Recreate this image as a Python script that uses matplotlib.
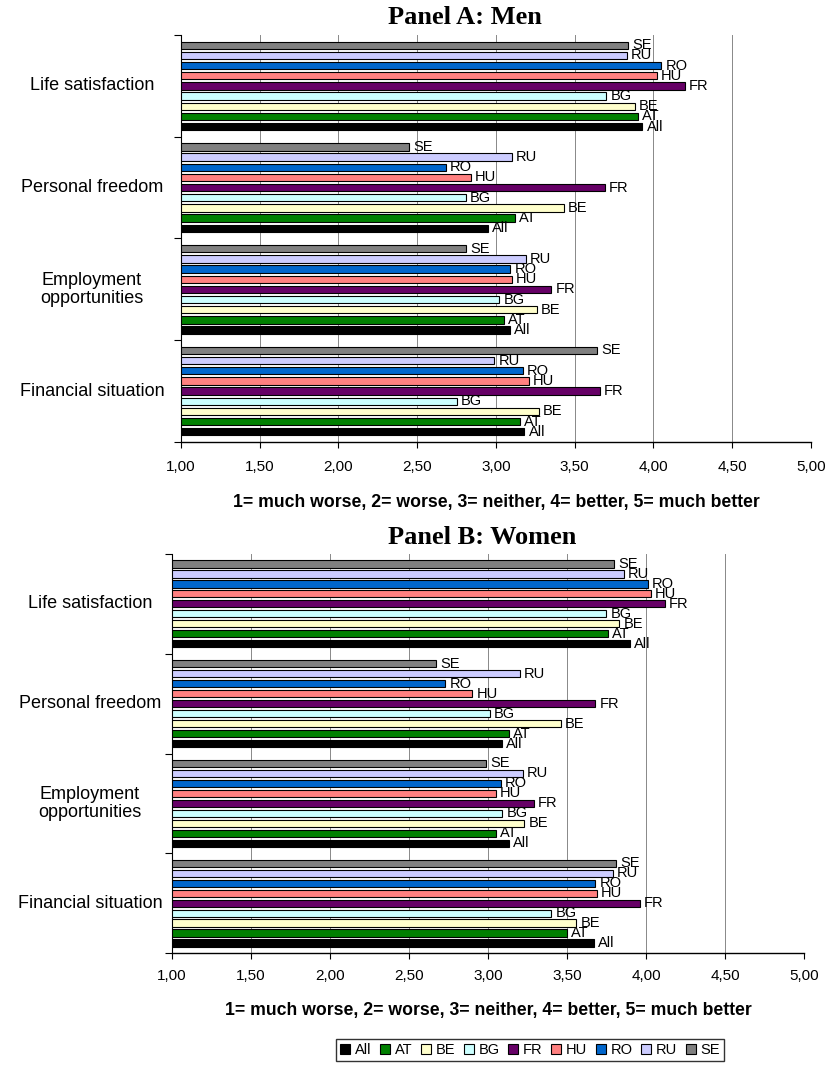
import matplotlib
matplotlib.use("Agg")
import matplotlib.pyplot as plt
from matplotlib.patches import Patch
from matplotlib.ticker import FixedLocator

plt.rcParams['font.family'] = ['Liberation Sans', 'DejaVu Sans']

# bottom-to-top order of the groups on the y axis
items = ["Financial situation", "Employment\nopportunities", "Personal freedom", "Life satisfaction"]
countries = ["All", "AT", "BE", "BG", "FR", "HU", "RO", "RU", "SE"]
colors = ["#000000", "#008000", "#FFFFCC", "#CCFFFF", "#660066",
          "#FF8080", "#0066CC", "#CCCCFF", "#808080"]
ticks = [1.0, 1.5, 2.0, 2.5, 3.0, 3.5, 4.0, 4.5, 5.0]
tick_labels = ["1,00", "1,50", "2,00", "2,50", "3,00", "3,50", "4,00", "4,50", "5,00"]
scale_note = "1= much worse, 2= worse, 3= neither, 4= better, 5= much better"

# mean answers, values in the order of `countries`
men_financial = [3.18, 3.15, 3.27, 2.75, 3.66, 3.21, 3.17, 2.99, 3.64]
men_employment = [3.09, 3.05, 3.26, 3.02, 3.35, 3.10, 3.09, 3.19, 2.81]
men_freedom = [2.95, 3.12, 3.43, 2.81, 3.69, 2.84, 2.68, 3.10, 2.45]
men_life = [3.93, 3.90, 3.88, 3.70, 4.20, 4.02, 4.05, 3.83, 3.84]

women_financial = [3.67, 3.50, 3.56, 3.40, 3.96, 3.69, 3.68, 3.79, 3.81]
women_employment = [3.13, 3.05, 3.23, 3.09, 3.29, 3.05, 3.08, 3.22, 2.99]
women_freedom = [3.09, 3.13, 3.46, 3.01, 3.68, 2.90, 2.73, 3.20, 2.67]
women_life = [3.90, 3.76, 3.83, 3.75, 4.12, 4.03, 4.01, 3.86, 3.80]

W, H = 829, 1077
fig = plt.figure(figsize=(W / 100, H / 100), dpi=100)


def panel(rect, groups, title, title_y, label_x, tick_y, note_y):
    ax = fig.add_axes(rect)
    pitch = 0.1
    for g, vals in enumerate(groups):
        for j, v in enumerate(vals):
            y = g - 0.4 + j * pitch
            ax.barh(y, v - 1.0, left=1.0, height=0.072, color=colors[j],
                    edgecolor="black", linewidth=0.8, zorder=3)
            ax.annotate(countries[j], (v, y), xytext=(3, 0), textcoords="offset points",
                        ha="left", va="center", fontsize=10.5, zorder=4)
    ax.set_xlim(1, 5)
    ax.set_ylim(-0.5, 3.5)
    ax.xaxis.set_major_locator(FixedLocator(ticks))
    ax.set_xticklabels([])
    ax.tick_params(axis="x", direction="out", length=4, width=0.8)
    ax.grid(axis="x", color="#888888", linewidth=0.7, zorder=0)
    ax.set_yticks([])
    ax.yaxis.set_minor_locator(FixedLocator([-0.5, 0.5, 1.5, 2.5, 3.5]))
    ax.tick_params(axis="y", which="minor", direction="out", length=5, width=0.8)
    for s in ("top", "right"):
        ax.spines[s].set_visible(False)
    ax.spines["left"].set_linewidth(0.8)
    ax.spines["bottom"].set_linewidth(1.0)

    # tick labels sit well below the axis line
    for t, lab in zip(ticks, tick_labels):
        x = rect[0] + (t - 1) / 4 * rect[2]
        fig.text(x, 1 - tick_y / H, lab, ha="center", va="center", fontsize=11)
    # group labels centred in the left margin
    for g, name in enumerate(items):
        y = rect[1] + (g + 0.5) / 4 * rect[3]
        fig.text(label_x / W, y, name, ha="center", va="center",
                 multialignment="center", fontsize=13, linespacing=1.1)
    cx = rect[0] + rect[2] / 2
    fig.text(cx, 1 - note_y / H, scale_note, ha="center", va="center",
             fontsize=12.7, fontweight="bold")
    fig.text(388 / W, 1 - title_y / H, title, ha="left", va="center",
             fontsize=19, fontweight="bold", family="Liberation Serif")
    return ax


rect_a = [181 / W, 1 - 442 / H, (811 - 181) / W, (442 - 35) / H]
rect_b = [172 / W, 1 - 953 / H, (804 - 172) / W, (953 - 554) / H]

panel(rect_a, [men_financial, men_employment, men_freedom, men_life],
      "Panel A: Men", 18, 92, 467, 502)
panel(rect_b, [women_financial, women_employment, women_freedom, women_life],
      "Panel B: Women", 537, 90, 976, 1010)

handles = [Patch(facecolor=c, edgecolor="black", linewidth=0.8) for c in colors]
fig.legend(handles, countries, loc="center", bbox_to_anchor=(530 / W, 1 - 1050 / H),
           ncol=9, fontsize=10.5, frameon=True, fancybox=False, edgecolor="black",
           handlelength=0.7, handleheight=0.7, handletextpad=0.3, columnspacing=0.6,
           borderpad=0.3, borderaxespad=0)

fig.savefig("out.png", dpi=100)
